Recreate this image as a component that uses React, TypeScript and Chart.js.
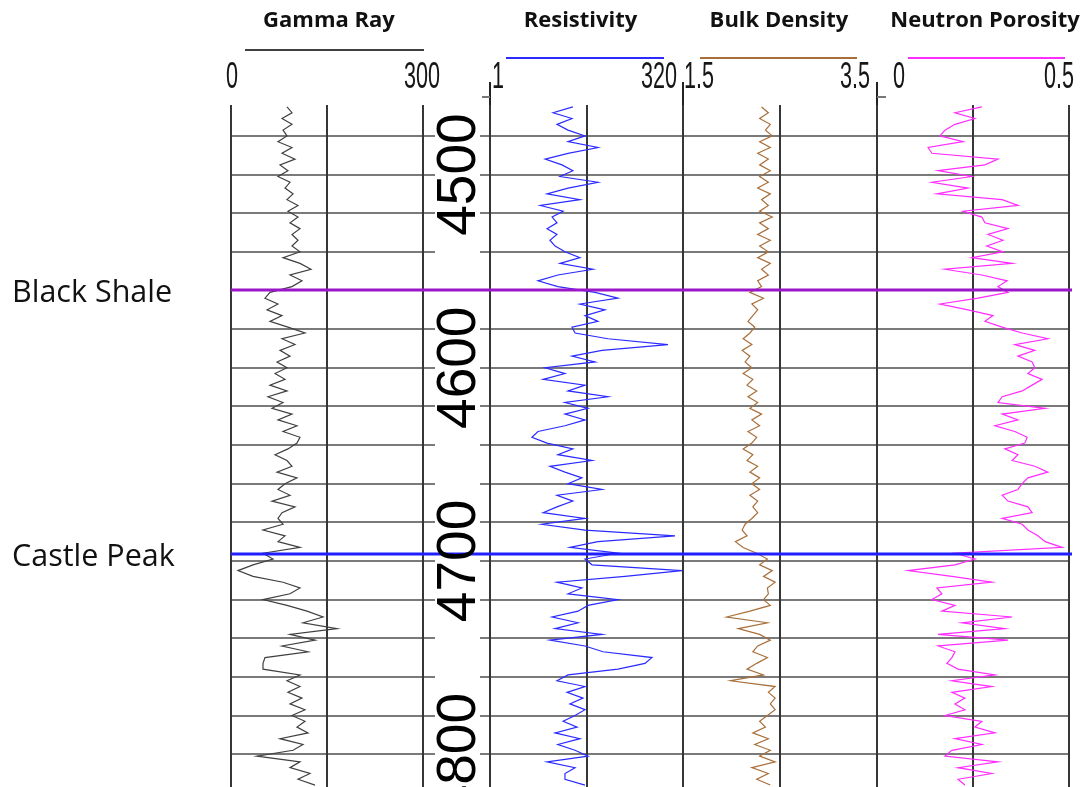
import React, { useEffect, useRef } from 'react';
import { Chart, registerables } from 'chart.js';

Chart.register(...registerables);

// ---------- data ----------
const DEPTHS = [
  4465, 4468, 4471, 4474, 4477, 4480, 4483, 4486, 4489, 4492, 4495, 4498, 4501, 4504, 4507, 4510, 4513, 4516, 4519, 4522,
  4525, 4528, 4531, 4534, 4537, 4540, 4543, 4546, 4549, 4552, 4555, 4558, 4561, 4564, 4567, 4570, 4573, 4576, 4579, 4582,
  4585, 4588, 4591, 4594, 4597, 4600, 4603, 4606, 4609, 4612, 4615, 4618, 4621, 4624, 4627, 4630, 4633, 4636, 4639, 4642,
  4645, 4648, 4651, 4654, 4657, 4660, 4663, 4666, 4669, 4672, 4675, 4678, 4681, 4684, 4687, 4690, 4693, 4696, 4699, 4702,
  4705, 4708, 4711, 4714, 4717, 4720, 4723, 4726, 4729, 4732, 4735, 4738, 4741, 4744, 4747, 4750, 4753, 4756, 4759, 4762,
  4765, 4768, 4771, 4774, 4777, 4780, 4783, 4786, 4789, 4792, 4795, 4798, 4801, 4804, 4807, 4810, 4813, 4816,
];

const GAMMA_RAY = [
  87.5, 95.3, 79.7, 95.3, 81.3, 87.5, 73.4, 95.3, 79.7, 100,
  76.6, 89, 73.4, 92.2, 84.4, 96.9, 87.5, 104.7, 89, 104.7,
  92.2, 107.8, 95.3, 104.7, 95.3, 107.8, 81.3, 107.8, 125, 92.2,
  110.9, 95.3, 60.9, 53.1, 73.4, 56.3, 79.7, 60.9, 89, 115.6,
  79.7, 100, 76.6, 92.2, 71.9, 87.5, 68.8, 84.4, 60.9, 87.5,
  57.8, 81.3, 64.1, 95.3, 73.4, 103.1, 81.3, 107.8, 103.1, 89,
  68.8, 87.5, 95.3, 71.9, 103.1, 84.4, 73.4, 92.2, 64.1, 100,
  79.7, 73.4, 81.3, 50, 84.4, 73.4, 107.8, 50, 65.6, 34.4,
  10.9, 34.4, 81.3, 107.8, 92.2, 50, 87.5, 118.8, 143.8, 112.5,
  165.6, 92.2, 131.3, 79.7, 120.3, 53.1, 50, 50, 107.8, 87.5,
  107.8, 89, 110.9, 92.2, 115.6, 95.3, 115.6, 103.1, 120.3, 76.6,
  112.5, 96.9, 40.6, 107.8, 92.2, 123.4, 104.7, 131.3,
];

const RESISTIVITY = [
  11.9, 6.6, 11.6, 7.4, 10.3, 17.1, 10.3, 25.2, 10.3, 5.2,
  8.6, 11.9, 8.1, 25.2, 10.3, 5.5, 14.7, 4.5, 8.9, 6.4,
  7.4, 5.5, 7.4, 6.0, 7.0, 9.4, 14.7, 8.1, 21.7, 7.6,
  4.2, 7.6, 23.1, 45.8, 14.7, 31.1, 17.1, 25.2, 11.6, 12.7,
  34.0, 204, 28.4, 11.6, 23.1, 5.2, 9.4, 4.9, 17.1, 10.3,
  34.0, 9.4, 18.7, 9.4, 17.1, 9.4, 4.2, 3.5,
  5.5, 11.9, 7.6, 21.1, 6.0, 9.4, 15.6, 10.3, 28.4, 7.4,
  11.9, 7.4, 4.9, 17.1, 4.7, 17.1, 252, 25.2, 10.9, 45.8,
  17.1, 21.1, 310, 56.5, 7.4, 15.6, 10.3, 45.8, 18.7, 13.9,
  6.4, 13.9, 7.0, 28.4, 6.0, 17.1, 29.3, 126.7, 102.8, 45.8,
  10.3, 7.4, 17.1, 10.0, 16.1, 10.9, 17.1, 12.7, 8.9, 13.5,
  7.0, 14.7, 7.6, 12.7, 18.7, 5.5, 12.7, 9.4, 9.4, 17.1,
];

const BULK_DENSITY = [
  2.31, 2.38, 2.29, 2.40, 2.35, 2.42, 2.29, 2.40, 2.27, 2.38,
  2.29, 2.40, 2.29, 2.38, 2.27, 2.40, 2.31, 2.38, 2.29, 2.42,
  2.29, 2.38, 2.27, 2.40, 2.29, 2.38, 2.27, 2.40, 2.31, 2.38,
  2.27, 2.31, 2.19, 2.33, 2.21, 2.27, 2.22, 2.17, 2.24, 2.19,
  2.12, 2.21, 2.11, 2.19, 2.14, 2.21, 2.12, 2.22, 2.16, 2.26,
  2.17, 2.27, 2.19, 2.31, 2.21, 2.29, 2.17, 2.26, 2.21, 2.12,
  2.22, 2.16, 2.27, 2.19, 2.29, 2.21, 2.29, 2.19, 2.27, 2.22,
  2.27, 2.21, 2.14, 2.11, 2.16, 2.04, 2.12, 2.26, 2.37, 2.29,
  2.42, 2.33, 2.45, 2.37, 2.38, 2.33, 2.40, 2.19, 1.95, 2.37,
  2.07, 2.29, 2.40, 2.27, 2.22, 2.37, 2.26, 2.16, 2.33, 1.99,
  2.45, 2.38, 2.45, 2.40, 2.45, 2.37, 2.29, 2.35, 2.22, 2.38,
  2.24, 2.40, 2.29, 2.45, 2.21, 2.38, 2.26, 2.40,
];

const NEUTRON_POROSITY = [
  0.273, 0.203, 0.255, 0.203, 0.177, 0.164, 0.224, 0.133, 0.143, 0.315,
  0.281, 0.159, 0.247, 0.143, 0.237, 0.156, 0.326, 0.367, 0.224, 0.273,
  0.281, 0.341, 0.289, 0.328, 0.286, 0.328, 0.247, 0.352, 0.177, 0.273,
  0.339, 0.315, 0.341, 0.263, 0.164, 0.237, 0.302, 0.281, 0.326, 0.378,
  0.445, 0.359, 0.411, 0.367, 0.404, 0.411, 0.393, 0.43, 0.404, 0.378,
  0.326, 0.315, 0.438, 0.326, 0.367, 0.307, 0.359, 0.391,
  0.385, 0.333, 0.367, 0.352, 0.411, 0.445, 0.393, 0.378, 0.367, 0.326,
  0.341, 0.393, 0.404, 0.326, 0.378, 0.393, 0.419, 0.438, 0.482, 0.203,
  0.255, 0.203, 0.081, 0.195, 0.299, 0.156, 0.169, 0.143, 0.203, 0.169,
  0.352, 0.221, 0.333, 0.159, 0.341, 0.159, 0.203, 0.195, 0.182, 0.211,
  0.307, 0.195, 0.299, 0.195, 0.229, 0.203, 0.229, 0.177, 0.273, 0.255,
  0.307, 0.203, 0.273, 0.195, 0.177, 0.315, 0.211, 0.299, 0.211, 0.229,
];

const TRACK_TITLES = ['Gamma Ray', 'Resistivity', 'Bulk Density', 'Neutron Porosity'];
const TRACK_COLORS = ['#404040', '#2b2bff', '#a86f3a', '#ff2bff'];
const TRACK_MIN = [0, 1, 1.5, 0];
const TRACK_MAX = [300, 320, 3.5, 0.5];
const SCALE_LABELS = [
  ['0', '300'],
  ['1', '320'],
  ['1.5', '3.5'],
  ['0', '0.5'],
];
const DEPTH_LABELS = [4500, 4600, 4700, 4800];
const GRID_DEPTHS = [4480, 4500, 4520, 4540, 4560, 4580, 4600, 4620, 4640, 4660, 4680, 4700, 4720, 4740, 4760, 4780, 4800];
const MARKER_NAMES = ['Black Shale', 'Castle Peak'];
const MARKER_DEPTHS = [4559.5, 4696.6];
const MARKER_COLORS = ['#9a16c8', '#1f1fff'];

// ---------- layout / style constants ----------
const TRACK_IDS = ['xGR', 'xRES', 'xDEN', 'xNEU'];
const TITLE_DX = [2, -6, -1, 12];
const UNDERLINE = [
  [14, 1, 50],
  [16, -19, 58],
  [17, -20, 58],
  [31, -4, 58],
];
const NARROW = 0.6;

function narrowText(ctx: CanvasRenderingContext2D, text: string, x: number, y: number, align: CanvasTextAlign) {
  ctx.save();
  ctx.translate(x, y);
  ctx.scale(NARROW, 1);
  ctx.textAlign = align;
  ctx.fillText(text, 0, 0);
  ctx.restore();
}

const logPlugin = {
  id: 'wellLogDecor',
  beforeDatasetsDraw(chart: any) {
    const ctx: CanvasRenderingContext2D = chart.ctx;
    const area = chart.chartArea;
    const ys = chart.scales.y;
    const dx = chart.scales.xDEPTH;
    const tracks = TRACK_IDS.map((id) => chart.scales[id]);
    const [gr, res, den, neu] = tracks;
    ctx.save();

    // horizontal grid lines
    ctx.strokeStyle = '#7a7a7a';
    ctx.lineWidth = 2;
    GRID_DEPTHS.forEach((d) => {
      const py = Math.round(ys.getPixelForValue(d));
      ctx.beginPath();
      ctx.moveTo(gr.left, py);
      ctx.lineTo(dx.left + 12, py);
      ctx.moveTo(dx.right - 10, py);
      ctx.lineTo(neu.right, py);
      ctx.stroke();
    });

    // vertical lines
    ctx.strokeStyle = '#363636';
    ctx.lineWidth = 2;
    tracks.forEach((s: any) => {
      [s.left, (s.left + s.right) / 2, s.right].forEach((x: number) => {
        const px = Math.round(x);
        ctx.beginPath();
        ctx.moveTo(px, area.top);
        ctx.lineTo(px, area.bottom);
        ctx.stroke();
      });
    });
    // extended separators + small ticks above the plot
    ctx.strokeStyle = '#222';
    [res.left, den.left, neu.left].forEach((x: number) => {
      const px = Math.round(x);
      ctx.beginPath();
      ctx.moveTo(px, area.top - 23);
      ctx.lineTo(px, area.top);
      ctx.stroke();
    });
    ctx.strokeStyle = '#777';
    ctx.beginPath();
    ctx.moveTo(res.left - 8, area.top - 8);
    ctx.lineTo(res.left, area.top - 8);
    ctx.moveTo(neu.left, area.top - 8);
    ctx.lineTo(neu.left + 9, area.top - 8);
    ctx.stroke();

    // headers
    tracks.forEach((s: any, i: number) => {
      const cx = (s.left + s.right) / 2 + TITLE_DX[i];
      ctx.fillStyle = '#111';
      ctx.font = "bold 22px 'Open Sans'";
      ctx.textAlign = 'center';
      ctx.textBaseline = 'alphabetic';
      ctx.fillText(TRACK_TITLES[i], cx, 27);

      const [l, r, y] = UNDERLINE[i];
      ctx.strokeStyle = TRACK_COLORS[i];
      ctx.lineWidth = 2;
      ctx.beginPath();
      ctx.moveTo(s.left + l, y);
      ctx.lineTo(s.right + r, y);
      ctx.stroke();
    });

    ctx.fillStyle = '#161616';
    ctx.font = "36px 'Liberation Sans'";
    ctx.textBaseline = 'alphabetic';
    const by = 88;
    narrowText(ctx, SCALE_LABELS[0][0], gr.left + 1, by, 'center');
    narrowText(ctx, SCALE_LABELS[0][1], gr.right - 1, by, 'center');
    narrowText(ctx, SCALE_LABELS[1][0], res.left + 2, by, 'left');
    narrowText(ctx, SCALE_LABELS[1][1], res.right - 6, by, 'right');
    narrowText(ctx, SCALE_LABELS[2][0], den.left + 1, by, 'left');
    narrowText(ctx, SCALE_LABELS[2][1], den.right - 7, by, 'right');
    narrowText(ctx, SCALE_LABELS[3][0], neu.left + 16, by, 'left');
    narrowText(ctx, SCALE_LABELS[3][1], neu.right + 5, by, 'right');

    ctx.restore();
  },
  afterDatasetsDraw(chart: any) {
    const ctx: CanvasRenderingContext2D = chart.ctx;
    const ys = chart.scales.y;
    const dx = chart.scales.xDEPTH;
    const gr = chart.scales.xGR;
    const neu = chart.scales.xNEU;
    ctx.save();

    // formation markers
    MARKER_DEPTHS.forEach((d, i) => {
      const py = Math.round(ys.getPixelForValue(d));
      ctx.strokeStyle = MARKER_COLORS[i];
      ctx.lineWidth = 3;
      ctx.beginPath();
      ctx.moveTo(gr.left, py);
      ctx.lineTo(neu.right + 3, py);
      ctx.stroke();
      ctx.fillStyle = '#111';
      ctx.font = "30.5px 'Open Sans'";
      ctx.textAlign = 'left';
      ctx.textBaseline = 'alphabetic';
      ctx.fillText(MARKER_NAMES[i], 12, py + 12);
    });

    // depth labels (rotated)
    ctx.fillStyle = '#000';
    ctx.font = "55px 'Liberation Sans'";
    ctx.textAlign = 'center';
    ctx.textBaseline = 'alphabetic';
    DEPTH_LABELS.forEach((d) => {
      const py = ys.getPixelForValue(d);
      ctx.save();
      ctx.translate(dx.right - 15, py);
      ctx.rotate(-Math.PI / 2);
      ctx.fillText(String(d), 0, 0);
      ctx.restore();
    });
    ctx.restore();
  },
};

const SERIES = [GAMMA_RAY, RESISTIVITY, BULK_DENSITY, NEUTRON_POROSITY];

export default function App() {
  const ref = useRef<HTMLCanvasElement>(null);

  useEffect(() => {
    const canvas = ref.current;
    if (!canvas) return;
    const datasets = SERIES.map((vals, i) => ({
      label: TRACK_TITLES[i],
      data: vals.map((v, j) => ({ x: v, y: DEPTHS[j] })),
      xAxisID: TRACK_IDS[i],
      yAxisID: 'y',
      borderColor: TRACK_COLORS[i],
      borderWidth: 1.2,
      pointRadius: 0,
      tension: 0,
      fill: false,
    }));

    const trackScale = (i: number, weight: number) => ({
      axis: 'x',
      type: i === 1 ? 'logarithmic' : 'linear',
      position: 'bottom',
      stack: 'tracks',
      stackWeight: weight,
      min: TRACK_MIN[i],
      max: TRACK_MAX[i],
      display: false,
    });

    const chart = new Chart(canvas, {
      type: 'line',
      data: { datasets: datasets as any },
      options: {
        animation: false,
        responsive: false,
        maintainAspectRatio: false,
        indexAxis: 'y',
        layout: { padding: { left: 231, right: 19, top: 105, bottom: 0 } },
        plugins: { legend: { display: false }, tooltip: { enabled: false } },
        scales: {
          xGR: trackScale(0, 192),
          xDEPTH: { axis: 'x', type: 'linear', position: 'bottom', stack: 'tracks', stackWeight: 67, min: 0, max: 1, display: false },
          xRES: trackScale(1, 193),
          xDEN: trackScale(2, 194),
          xNEU: trackScale(3, 192),
          y: { type: 'linear', position: 'left', reverse: true, min: 4464, max: 4817, display: false },
        } as any,
      },
      plugins: [logPlugin],
    });
    return () => chart.destroy();
  }, []);

  return (
    <div style={{ position: 'absolute', left: 0, top: 0, width: 1088, height: 787, background: '#fff', overflow: 'hidden' }}>
      <canvas ref={ref} width={1088} height={787} style={{ display: 'block', width: 1088, height: 787 }} />
    </div>
  );
}
